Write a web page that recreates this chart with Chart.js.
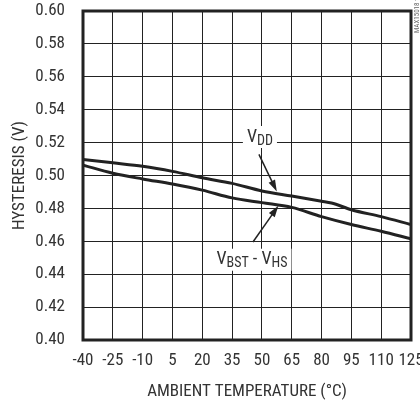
<!DOCTYPE html>
<html>
<head>
<meta charset="utf-8">
<script src="https://cdn.jsdelivr.net/npm/chart.js@4.4.1/dist/chart.umd.min.js"></script>
<style>
  html, body { margin: 0; padding: 0; background: #fff; }
  #wrap { width: 420px; height: 402px; }
</style>
</head>
<body>
<div id="wrap"><canvas id="myChart" width="420" height="402"></canvas></div>
<script>
// ambient temperature (°C) and hysteresis (V)
const vddTemps = [-40, -25, -10, 5, 20, 35, 50, 65, 80, 85, 95, 110, 125]
const vddHyst = [0.5098, 0.5077, 0.5056, 0.5025, 0.4986, 0.4952, 0.4906, 0.4875, 0.4844, 0.4833, 0.4792, 0.475, 0.4702]
const bstTemps = [-40, -25, -10, 5, 20, 35, 50, 65, 80, 95, 110, 125]
const bstHyst = [0.5063, 0.5014, 0.4979, 0.4948, 0.4911, 0.4864, 0.4835, 0.4806, 0.475, 0.4702, 0.4661, 0.4615]
const xTicks = [-40, -25, -10, 5, 20, 35, 50, 65, 80, 95, 110, 125]

// callout labels: where the text sits and where the arrow points (data coords)
const callouts = [
  { main: "V", sub: "DD", at: [49, 0.5234], from: [48.5, 0.5128], to: [57.5, 0.4903] },
  { main: "V", sub: "BST", tail: " - V", sub2: "HS", at: [45, 0.4488], from: [45.5, 0.4596], to: [58.3, 0.4816] },
]

const ink = "#222"
const textColor = "#333"
const family = "'Liberation Sans Narrow', 'Arial Narrow', 'Roboto Condensed', 'Liberation Sans', sans-serif"

const pts = (xs, ys) => xs.map((x, i) => ({ x: x, y: ys[i] }))

const framePlugin = {
  id: "frame",
  afterDraw: function (chart) {
    const ctx = chart.ctx
    const a = chart.chartArea
    const xs = chart.scales.x
    const ys = chart.scales.y
    ctx.save()
    ctx.strokeStyle = ink
    ctx.lineWidth = 3
    ctx.strokeRect(a.left, a.top, a.right - a.left, a.bottom - a.top)

    callouts.forEach(function (c) {
      const cx = xs.getPixelForValue(c.at[0])
      const cy = ys.getPixelForValue(c.at[1])
      // measure the label
      const big = "18px " + family
      const small = "14px " + family
      const parts = [[c.main, big, 0], [c.sub, small, 4]]
      if (c.tail) parts.push([c.tail, big, 0], [c.sub2, small, 4])
      let w = 0
      parts.forEach(function (p) { ctx.font = p[1]; w += ctx.measureText(p[0]).width })
      ctx.fillStyle = "#fff"
      ctx.fillRect(cx - w / 2 - 4, cy - 11, w + 8, 22)
      let x = cx - w / 2
      ctx.fillStyle = textColor
      ctx.textBaseline = "middle"
      ctx.textAlign = "left"
      parts.forEach(function (p) {
        ctx.font = p[1]
        ctx.fillText(p[0], x, cy + p[2])
        x += ctx.measureText(p[0]).width
      })
      // arrow
      const x1 = xs.getPixelForValue(c.from[0])
      const y1 = ys.getPixelForValue(c.from[1])
      const x2 = xs.getPixelForValue(c.to[0])
      const y2 = ys.getPixelForValue(c.to[1])
      const ang = Math.atan2(y2 - y1, x2 - x1)
      const head = 12
      ctx.strokeStyle = ink
      ctx.lineWidth = 1.5
      ctx.beginPath()
      ctx.moveTo(x1, y1)
      ctx.lineTo(x2 - Math.cos(ang) * head * 0.8, y2 - Math.sin(ang) * head * 0.8)
      ctx.stroke()
      ctx.fillStyle = ink
      ctx.beginPath()
      ctx.moveTo(x2, y2)
      ctx.lineTo(x2 - head * Math.cos(ang - 0.3), y2 - head * Math.sin(ang - 0.3))
      ctx.lineTo(x2 - head * Math.cos(ang + 0.3), y2 - head * Math.sin(ang + 0.3))
      ctx.closePath()
      ctx.fill()
    })

    // figure tag on the right edge
    ctx.translate(417, 33)
    ctx.rotate(-Math.PI / 2)
    ctx.font = "7px " + family
    ctx.fillStyle = "#666"
    ctx.textAlign = "left"
    ctx.textBaseline = "middle"
    ctx.fillText("MAX15018 toc03", 0, 0)
    ctx.restore()
  },
}

const ctx = document.getElementById("myChart").getContext("2d")
const myChart = new Chart(ctx, {
  type: "line",
  data: {
    datasets: [
      {
        label: "VDD",
        data: pts(vddTemps, vddHyst),
        borderColor: ink,
        borderWidth: 3,
        pointRadius: 0,
        cubicInterpolationMode: "monotone",
      },
      {
        label: "VBST - VHS",
        data: pts(bstTemps, bstHyst),
        borderColor: ink,
        borderWidth: 3,
        pointRadius: 0,
        cubicInterpolationMode: "monotone",
      },
    ],
  },
  options: {
    responsive: false,
    animation: false,
    layout: { padding: { top: 11, right: 9, left: 0, bottom: 0 } },
    plugins: {
      legend: { display: false },
      tooltip: { enabled: false },
    },
    scales: {
      x: {
        type: "linear",
        min: -40,
        max: 125,
        afterBuildTicks: function (scale) {
          scale.ticks = xTicks.map((v) => ({ value: v }))
        },
        afterFit: function (scale) {
          scale.height = 62
          // let the "125" label hang off the edge instead of shrinking the plot
          scale.paddingLeft = 0
          scale.paddingRight = 0
        },
        grid: { color: ink, lineWidth: 1, drawTicks: false },
        border: { display: false },
        ticks: { padding: 11, color: textColor, font: { family: family, size: 17 }, maxRotation: 0, autoSkip: false },
        title: {
          display: true,
          text: "AMBIENT TEMPERATURE (°C)",
          color: textColor,
          font: { family: family, size: 17 },
          padding: { top: 0, bottom: 0 },
        },
      },
      y: {
        min: 0.4,
        max: 0.6,
        afterFit: function (scale) {
          scale.width = 83
          scale.paddingTop = 0
          scale.paddingBottom = 0
        },
        grid: { color: ink, lineWidth: 1, drawTicks: false },
        border: { display: false },
        ticks: {
          stepSize: 0.02,
          padding: 18,
          color: textColor,
          font: { family: family, size: 17 },
          callback: (v) => v.toFixed(2),
        },
        title: {
          display: true,
          text: "HYSTERESIS (V)",
          color: textColor,
          font: { family: family, size: 17 },
          padding: { top: 10, bottom: 0 },
        },
      },
    },
  },
  plugins: [framePlugin],
})
</script>
</body>
</html>
